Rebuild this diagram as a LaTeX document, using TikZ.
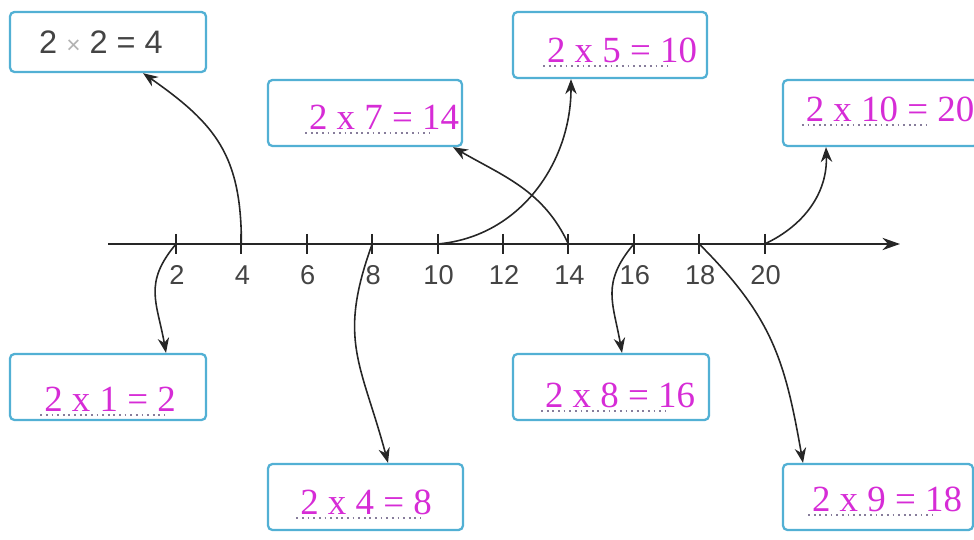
\documentclass[tikz,border=0pt]{standalone}
\usepackage{fontspec}
\setmainfont{Liberation Sans}
\newfontfamily\ansfont{Liberation Serif}
\usetikzlibrary{arrows.meta}
\definecolor{boxblue}{RGB}{82,176,212}
\definecolor{ansmag}{RGB}{214,44,214}
\definecolor{numgrey}{RGB}{68,68,68}
\definecolor{dotgrey}{RGB}{135,125,155}

\begin{document}
\begin{tikzpicture}[x=0.02cm,y=-0.02cm,
	box/.style={draw=boxblue,line width=1.3pt,rounded corners=2.5pt,minimum height=1.32cm,inner sep=0pt},
	ans/.style={anchor=base,inner sep=0pt,text=ansmag,font=\ansfont\fontsize{21}{25}\selectfont},
	lbl/.style={anchor=base,inner sep=0pt,text=numgrey,font=\fontsize{15.5}{18}\selectfont},
	tk/.style={line width=1.1pt,draw=black!85},
	dots/.style={draw=dotgrey,line width=1pt,dash pattern=on 1pt off 2.2pt},
	arr/.style={-{Stealth[length=8.5pt,width=6.5pt]},line width=0.9pt,draw=black!85}]
		\useasboundingbox (0,0) rectangle (974,540);
		% number line
		\coordinate (ax0) at (108,244);
		\coordinate (ax1) at (900,244);
		\draw[tk,-{Stealth[length=10pt,width=7pt]}] (ax0) -- (ax1);
		\foreach \n in {2,4,...,20}{
			\coordinate (t\n) at ({176+(\n/2-1)*65.4},244);
			\draw[tk] (t\n) ++(0,-10) -- ++(0,20);
			\node[lbl] (l\n) at ({177+(\n/2-1)*65.4},285) {\n};
		}
		% boxes
		\node[box,minimum width=3.92cm,minimum height=1.2cm] (bA) at (108,42) {};
		\node[box,minimum width=3.88cm] (bB) at (610,45) {};
		\node[box,minimum width=3.88cm] (bC) at (365,113) {};
		\node[box,minimum width=3.9cm] (bD) at (880.5,113) {};
		\node[box,minimum width=3.92cm] (bE) at (108,387) {};
		\node[box,minimum width=3.92cm] (bF) at (611,387) {};
		\node[box,minimum width=3.9cm] (bG) at (365.5,497) {};
		\node[box,minimum width=3.8cm] (bH) at (878,497) {};
		% answers
		\node[anchor=base,inner sep=0pt,text=numgrey,font=\fontsize{18.5}{22}\selectfont] (eA) at (101,54) {2 {\color{black!30}\fontsize{14}{16}\selectfont ×} 2 = 4};
		\node[ans] (eB) at (622,63) {2 x 5 = 10};
		\node[ans] (eC) at (384,130) {2 x 7 = 14};
		\node[ans] (eD) at (890,122) {2 x 10 = 20};
		\node[ans] (eE) at (110,412) {2 x 1 = 2};
		\node[ans] (eF) at (620,408) {2 x 8 = 16};
		\node[ans] (eG) at (366,515) {2 x 4 = 8};
		\node[ans] (eH) at (887,512) {2 x 9 = 18};
		\foreach \e in {eB,eC,eD,eE,eF,eG,eH}
			\draw[dots] ([xshift=-2pt,yshift=-1.5pt]\e.base west) -- ++(125,0);
		% arrows
		\draw[arr] (t4) to[out=90,in=-35,looseness=1.15] (bA.south -| 143,0);
		\draw[arr] (t10) to[out=5,in=-90] (bB.south -| 571,0);
		\draw[arr] (t14) to[out=115,in=-30] (bC.south -| 453,0);
		\draw[arr] (t20) to[out=25,in=-88] (bD.south -| 826,0);
		\draw[arr] (t2) to[out=-130,in=100,looseness=1.2] (bE.north -| 166,0);
		\draw[arr] (t8) to[out=-110,in=105,looseness=1.2] (bG.north -| 388,0);
		\draw[arr] (t16) to[out=-130,in=100,looseness=1.2] (bF.north -| 622,0);
		\draw[arr] (t18) to[out=-45,in=100,looseness=1.1] (bH.north -| 803,0);
\end{tikzpicture}
\end{document}
